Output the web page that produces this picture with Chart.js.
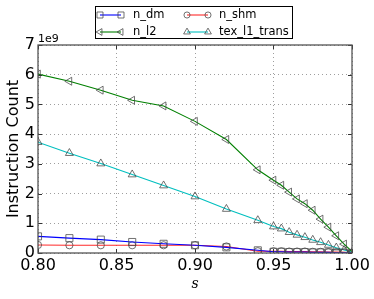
<!DOCTYPE html>
<html>
<head>
<meta charset="utf-8">
<script src="https://cdn.jsdelivr.net/npm/chart.js@4/dist/chart.umd.min.js"></script>
<style>
  html, body { margin: 0; padding: 0; background: #fff; }
  #wrap { position: relative; width: 374px; height: 299px; }
</style>
</head>
<body>
<div id="wrap"><canvas id="myChart" width="374" height="299"></canvas></div>
<script>
'use strict';
// s values (x axis)
let sValues=[0.80,0.82,0.84,0.86,0.88,0.90,0.92,0.94,0.95,0.955,0.96,0.965,0.97,0.975,0.98,0.985,0.99,0.995,1.00];
// instruction counts, in units of 1e9
let nDm=[0.56,0.50,0.45,0.37,0.31,0.26,0.19,0.09,0.04,0.04,0.03,0.03,0.03,0.02,0.02,0.02,0.01,0.01,0.00];
let nShm=[0.27,0.26,0.26,0.26,0.26,0.26,0.22,0.06,0.06,0.06,0.05,0.05,0.05,0.04,0.04,0.03,0.03,0.02,0.00];
let nL2=[6.02,5.78,5.48,5.14,4.95,4.43,3.82,2.80,2.45,2.28,2.05,1.82,1.66,1.44,1.14,0.87,0.58,0.30,0.05];
let texL1Trans=[3.73,3.36,3.01,2.64,2.27,1.90,1.48,1.10,0.89,0.82,0.70,0.61,0.53,0.44,0.36,0.27,0.18,0.10,0.03];
let xTicks=[0.80,0.85,0.90,0.95,1.00];
let yTicks=[0,1,2,3,4,5,6,7];

let markerEdge='rgba(70,70,70,0.85)';

function points(values){
  let out=[];
  for(let i=0; i<sValues.length; i++){
    out.push({x: sValues[i], y: values[i]});
  }
  return out;
}

function makeSet(label, values, color, style, radius, rotation){
  return {
    label: label,
    data: points(values),
    borderColor: color,
    borderWidth: 1.1,
    backgroundColor: 'transparent',
    pointStyle: style,
    pointRadius: radius,
    pointRotation: rotation,
    pointBorderColor: markerEdge,
    pointBackgroundColor: 'transparent',
    pointBorderWidth: 0.9,
    tension: 0
  };
}

let datasets=[
  makeSet('n_dm', nDm, '#0000ff', 'rect', 5, 0),
  makeSet('n_l2', nL2, '#008000', 'triangle', 4.6, -90),
  makeSet('n_shm', nShm, '#ff2a2a', 'circle', 3.6, 0),
  makeSet('tex_l1_trans', texL1Trans, '#00bfbf', 'triangle', 4.6, 0)
];

// frame, inward ticks, 1e9 offset text and the two column legend
let framePlugin={
  id: 'frame',
  afterDraw(chart){
    let ctx=chart.ctx;
    let a=chart.chartArea;
    let xs=chart.scales.x;
    let ys=chart.scales.y;
    ctx.save();
    ctx.strokeStyle='#333';
    ctx.lineWidth=1;
    for(let i=0; i<xTicks.length; i++){
      let px=Math.round(xs.getPixelForValue(xTicks[i]))+0.5;
      ctx.beginPath();
      ctx.moveTo(px, a.top); ctx.lineTo(px, a.top+4);
      ctx.moveTo(px, a.bottom); ctx.lineTo(px, a.bottom-4);
      ctx.stroke();
    }
    for(let i=0; i<yTicks.length; i++){
      let py=Math.round(ys.getPixelForValue(yTicks[i]))+0.5;
      ctx.beginPath();
      ctx.moveTo(a.left, py); ctx.lineTo(a.left+4, py);
      ctx.moveTo(a.right, py); ctx.lineTo(a.right-4, py);
      ctx.stroke();
    }
    ctx.strokeStyle='#555';
    ctx.lineWidth=1.3;
    ctx.strokeRect(a.left, a.top, a.right-a.left, a.bottom-a.top);

    ctx.fillStyle='#000';
    ctx.font='11px "DejaVu Sans"';
    ctx.textAlign='left';
    ctx.textBaseline='alphabetic';
    ctx.fillText('1e9', a.left, a.top-3);

    // legend box
    ctx.fillStyle='#fff';
    ctx.fillRect(95.5, 6.5, 197, 32);
    ctx.strokeStyle='#000';
    ctx.lineWidth=1;
    ctx.strokeRect(95.5, 6.5, 197, 32);
    let cols=[{line: 100, text: 133}, {line: 187, text: 219}];
    let rows=[15, 32];
    for(let i=0; i<datasets.length; i++){
      let d=datasets[i];
      let c=cols[Math.floor(i/2)];
      let y=rows[i%2];
      ctx.strokeStyle=d.borderColor;
      ctx.lineWidth=1.1;
      ctx.beginPath();
      ctx.moveTo(c.line, y); ctx.lineTo(c.line+21, y);
      ctx.stroke();
      ctx.strokeStyle=markerEdge;
      ctx.fillStyle='rgba(0,0,0,0)';
      ctx.lineWidth=0.9;
      let opts={pointStyle: d.pointStyle, radius: d.pointRadius*0.85, rotation: d.pointRotation, borderWidth: 0.9};
      Chart.helpers.drawPoint(ctx, opts, c.line, y);
      Chart.helpers.drawPoint(ctx, opts, c.line+21, y);
      ctx.fillStyle='#000';
      ctx.font='11.5px "DejaVu Sans"';
      ctx.textBaseline='middle';
      ctx.fillText(d.label, c.text, y);
    }
    ctx.restore();
  }
};

let ctx=document.getElementById('myChart').getContext('2d');
let myChart=new Chart(ctx, {
  type: 'line',
  data: {datasets: datasets},
  options: {
    responsive: false,
    animation: false,
    layout: {padding: {top: 45, right: 22, left: 0, bottom: 0}},
    plugins: {legend: {display: false}, tooltip: {enabled: false}},
    scales: {
      x: {
        type: 'linear',
        min: 0.8,
        max: 1.0,
        afterBuildTicks(scale){
          scale.ticks=xTicks.map(v => ({value: v}));
        },
        afterFit(scale){ scale.height=46; },
        border: {display: false, dash: [1, 3]},
        grid: {color: 'rgba(0,0,0,0.38)', lineWidth: 1, drawTicks: false},
        ticks: {
          color: '#000',
          padding: 3,
          maxRotation: 0,
          font: {family: 'DejaVu Sans', size: 16},
          callback: v => Number(v).toFixed(2)
        },
        title: {
          display: true,
          text: 's',
          color: '#000',
          padding: {top: 0, bottom: 6},
          font: {family: 'DejaVu Serif', size: 14, style: 'italic'}
        }
      },
      y: {
        min: 0,
        max: 7,
        afterBuildTicks(scale){
          scale.ticks=yTicks.map(v => ({value: v}));
        },
        afterFit(scale){ scale.width=38; },
        border: {display: false, dash: [1, 3]},
        grid: {color: 'rgba(0,0,0,0.38)', lineWidth: 1, drawTicks: false},
        ticks: {
          color: '#000',
          padding: 3,
          font: {family: 'DejaVu Sans', size: 16},
          callback: v => String(v)
        },
        title: {
          display: true,
          text: 'Instruction Count',
          color: '#000',
          padding: {top: 4, bottom: 0},
          font: {family: 'DejaVu Sans', size: 16}
        }
      }
    }
  },
  plugins: [framePlugin]
});
</script>
</body>
</html>
